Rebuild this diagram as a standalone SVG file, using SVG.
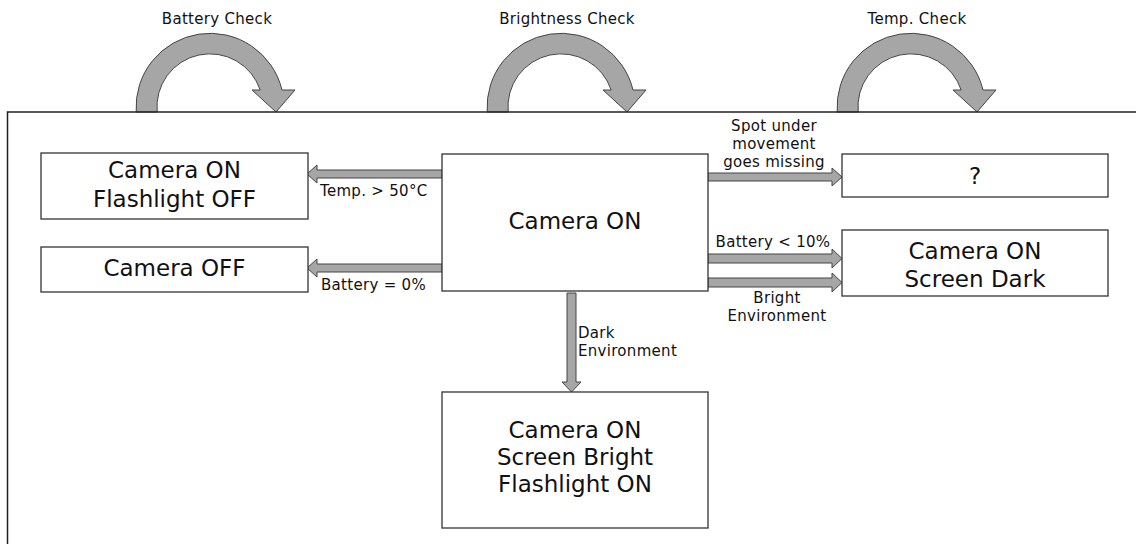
<svg xmlns="http://www.w3.org/2000/svg" width="1136" height="544" viewBox="0 0 1136 544">
  <style>
    .frame { stroke: #222; stroke-width: 1.5; fill: none; }
    .box { fill: #fff; stroke: #333; stroke-width: 1.3; }
    .big { font-family: "DejaVu Sans", Verdana, sans-serif; font-size: 23px; fill: #111; text-anchor: middle; }
    .lbl { font-family: "DejaVu Sans", Verdana, sans-serif; font-size: 15px; letter-spacing: 0.3px; fill: #111; }
    .mid { text-anchor: middle; }
    .arr { fill: #a6a6a6; stroke: #444; stroke-width: 1; stroke-linejoin: miter; }
  </style>
  <defs>
    <path id="curl" d="M136.2,112 A74,74 0 0 1 282,90 L295,90 L276,112 L252,90 L260.2,90 A53,53 0 0 0 157.2,112 Z"/>
  </defs>
  <rect width="1136" height="544" fill="#fff"/>

  <g id="checks">
    <use href="#curl" class="arr"/>
    <use href="#curl" class="arr" transform="translate(351,0)"/>
    <use href="#curl" class="arr" transform="translate(701,0)"/>
    <text class="lbl mid" x="217" y="24">Battery Check</text>
    <text class="lbl mid" x="567" y="24">Brightness Check</text>
    <text class="lbl mid" x="917" y="24">Temp. Check</text>
  </g>

  <g id="frame">
    <path class="frame" d="M1136,112 H7.5 V544"/>
  </g>

  <g id="connectors">
    <path class="arr" d="M442,170 H317 V165 L307,174 L317,183 V178 H442 Z"/>
    <path class="arr" d="M442,264 H317 V259 L307,268 L317,277 V272 H442 Z"/>
    <path class="arr" d="M708,173 H832 V168 L842,177 L832,186 V181 H708 Z"/>
    <path class="arr" d="M708,254 H832 V249 L842,258.5 L832,268 V263 H708 Z"/>
    <path class="arr" d="M708,278 H832 V273 L842,282.5 L832,292 V287 H708 Z"/>
    <path class="arr" d="M567,293 V382 H562 L571.5,392 L581,382 H576 V293 Z"/>
    <text class="lbl" x="320" y="196">Temp. &gt; 50°C</text>
    <text class="lbl" x="321" y="290">Battery = 0%</text>
    <text class="lbl mid" x="774" y="131">Spot under</text>
    <text class="lbl mid" x="774" y="149">movement</text>
    <text class="lbl mid" x="774" y="167">goes missing</text>
    <text class="lbl mid" x="773" y="247">Battery &lt; 10%</text>
    <text class="lbl mid" x="777" y="303">Bright</text>
    <text class="lbl mid" x="777" y="321">Environment</text>
    <text class="lbl" x="578" y="338">Dark</text>
    <text class="lbl" x="578" y="356">Environment</text>
  </g>

  <g id="node-flashlight-off">
    <rect class="box" x="41" y="153" width="267" height="66"/>
    <text class="big" x="174.5" y="178">Camera ON</text>
    <text class="big" x="174.5" y="207">Flashlight OFF</text>
  </g>
  <g id="node-camera-off">
    <rect class="box" x="41" y="247" width="267" height="45"/>
    <text class="big" x="174.5" y="276">Camera OFF</text>
  </g>
  <g id="node-camera-on">
    <rect class="box" x="442" y="154" width="266" height="137"/>
    <text class="big" x="575" y="229">Camera ON</text>
  </g>
  <g id="node-unknown">
    <rect class="box" x="842" y="154" width="266" height="43"/>
    <text class="big" x="975" y="184">?</text>
  </g>
  <g id="node-screen-dark">
    <rect class="box" x="842" y="230" width="266" height="66"/>
    <text class="big" x="975" y="259">Camera ON</text>
    <text class="big" x="975" y="287">Screen Dark</text>
  </g>
  <g id="node-screen-bright">
    <rect class="box" x="442" y="392" width="266" height="136"/>
    <text class="big" x="575" y="438">Camera ON</text>
    <text class="big" x="575" y="465">Screen Bright</text>
    <text class="big" x="575" y="492">Flashlight ON</text>
  </g>
</svg>
